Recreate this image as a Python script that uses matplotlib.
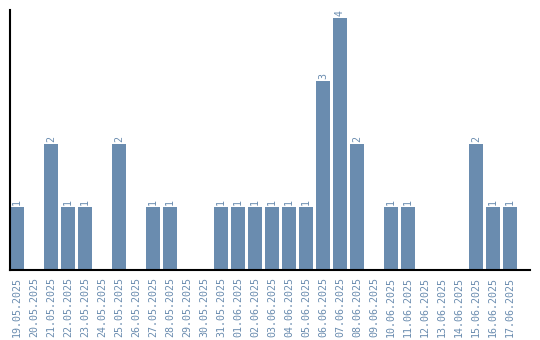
import matplotlib
matplotlib.use('Agg')
import matplotlib.pyplot as plt

dates = ['19.05.2025', '20.05.2025', '21.05.2025', '22.05.2025', '23.05.2025',
         '24.05.2025', '25.05.2025', '26.05.2025', '27.05.2025', '28.05.2025',
         '29.05.2025', '30.05.2025', '31.05.2025', '01.06.2025', '02.06.2025',
         '03.06.2025', '04.06.2025', '05.06.2025', '06.06.2025', '07.06.2025',
         '08.06.2025', '09.06.2025', '10.06.2025', '11.06.2025', '12.06.2025',
         '13.06.2025', '14.06.2025', '15.06.2025', '16.06.2025', '17.06.2025']
counts = [1, 0, 2, 1, 1, 0, 2, 0, 1, 1, 0, 0, 1, 1, 1,
          1, 1, 1, 3, 4, 2, 0, 1, 1, 0, 0, 0, 2, 1, 1]

bar_color = '#6a8caf'
text_color = '#6a8caf'

fig = plt.figure(figsize=(5.4, 3.4), dpi=100)
ax = fig.add_axes([10/540, 70/340, 520/540, 260/340])

x = list(range(len(dates)))
ax.bar(x, counts, width=0.82, color=bar_color)
for i, c in enumerate(counts):
    if c > 0:
        ax.text(i, c + 0.03, str(c), rotation=90, ha='center', va='bottom',
                fontsize=7.2, color=text_color, family='DejaVu Sans Mono')

ax.set_xlim(-0.41, 30.18)
ax.set_ylim(0, 4.13)
ax.set_xticks(x)
ax.set_xticklabels(dates, rotation=90, fontsize=7.2, color=text_color,
                   family='DejaVu Sans Mono')
ax.tick_params(axis='x', length=0, pad=5)
ax.set_yticks([])
for s in ['top', 'right']:
    ax.spines[s].set_visible(False)
for s in ['left', 'bottom']:
    ax.spines[s].set_linewidth(1.5)
    ax.spines[s].set_color('black')

fig.savefig('out.png', dpi=100)
